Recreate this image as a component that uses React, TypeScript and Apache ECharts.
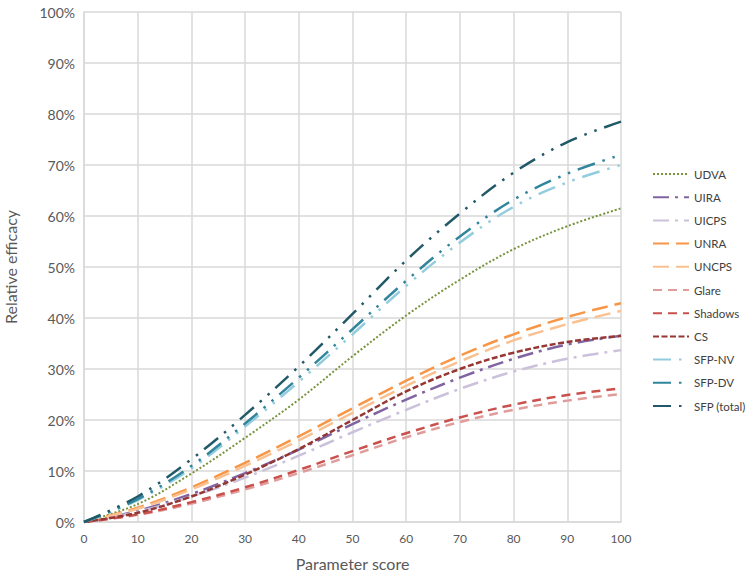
import React, { useEffect, useRef } from "react";
import * as echarts from "echarts";

const scores = [0, 10, 20, 30, 40, 50, 60, 70, 80, 90, 100];

const udva = [0, 3.5, 9.5, 16.5, 24, 32.5, 40.5, 47.5, 53.5, 58, 61.5];
const uira = [0, 2.2, 5.5, 9.6, 14.2, 19.2, 24, 28.3, 32, 34.8, 36.5];
const uicps = [0, 2, 5, 8.7, 13, 17.6, 22, 26.1, 29.5, 32, 33.7];
const unra = [0, 2.8, 6.8, 11.6, 16.8, 22.3, 27.7, 32.6, 36.8, 40.2, 42.9];
const uncps = [0, 2.6, 6.4, 11, 16, 21.4, 26.7, 31.5, 35.6, 38.8, 41.4];
const glare = [0, 1.4, 3.6, 6.4, 9.6, 13.1, 16.6, 19.6, 22, 23.8, 25.1];
const shadows = [0, 1.5, 3.9, 6.8, 10.2, 13.9, 17.4, 20.5, 23, 24.9, 26.2];
const cs = [0, 1.8, 5, 9.3, 14.3, 20, 25.6, 30, 33.2, 35.3, 36.5];
const sfpNv = [0, 4.3, 10.5, 18.7, 27.5, 36.8, 46.3, 54.8, 61.8, 66.6, 70];
const sfpDv = [0, 4.5, 11, 19.3, 28.3, 37.8, 47.3, 56, 63.2, 68.3, 72];
const sfpTotal = [0, 5, 12.3, 21, 30.5, 40.8, 51.3, 60.5, 68.5, 74.5, 78.5];

const seriesDefs = [
  { name: "UDVA", data: udva, color: "#77933C", dash: [2, 2], width: 2 },
  { name: "UIRA", data: uira, color: "#8064A2", dash: [16, 6, 3, 6], width: 2.5 },
  { name: "UICPS", data: uicps, color: "#CCC1DA", dash: [16, 6, 3, 6], width: 2.5 },
  { name: "UNRA", data: unra, color: "#F79646", dash: [16, 7], width: 2.5 },
  { name: "UNCPS", data: uncps, color: "#FAC090", dash: [16, 7], width: 2.5 },
  { name: "Glare", data: glare, color: "#E09C9A", dash: [9, 6], width: 2.5 },
  { name: "Shadows", data: shadows, color: "#C9504C", dash: [9, 6], width: 2.5 },
  { name: "CS", data: cs, color: "#953735", dash: [6, 2.5], width: 2.5 },
  { name: "SFP-NV", data: sfpNv, color: "#93CDDD", dash: [18, 8, 2.5, 8, 2.5, 8], width: 2.5 },
  { name: "SFP-DV", data: sfpDv, color: "#31859C", dash: [18, 8, 2.5, 8, 2.5, 8], width: 2.5 },
  { name: "SFP (total)", data: sfpTotal, color: "#215968", dash: [18, 8, 2.5, 8, 2.5, 8], width: 2.5 },
];

const FONT = "Lato, 'Open Sans', sans-serif";

export default function App() {
  const ref = useRef<HTMLDivElement>(null);
  useEffect(() => {
    if (!ref.current) return;
    const chart = echarts.init(ref.current, undefined, { renderer: "svg" });
    chart.setOption({
      animation: false,
      backgroundColor: "#ffffff",
      textStyle: { fontFamily: FONT },
      grid: {
        left: 84,
        right: 129,
        top: 12,
        bottom: 51,
        containLabel: false,
        outerBoundsMode: "none",
      },
      legend: {
        orient: "vertical",
        left: 652,
        top: 168,
        padding: 0,
        itemWidth: 36,
        itemHeight: 14,
        itemGap: 11.2,
        itemStyle: { opacity: 0 },
        textStyle: { fontFamily: FONT, fontSize: 11.5, color: "#404040" },
        data: seriesDefs.map((s) => s.name),
      },
      xAxis: {
        type: "value",
        min: 0,
        max: 100,
        interval: 10,
        name: "Parameter score",
        nameLocation: "middle",
        nameGap: 33,
        nameTextStyle: { fontFamily: FONT, fontSize: 16, color: "#595959" },
        axisLine: { show: true, lineStyle: { color: "#D9D9D9", width: 1.5 } },
        axisTick: { show: false },
        axisLabel: { fontFamily: FONT, fontSize: 12, color: "#595959", margin: 10 },
        splitLine: { show: true, lineStyle: { color: "#D9D9D9", width: 1.5 } },
      },
      yAxis: {
        type: "value",
        min: 0,
        max: 100,
        interval: 10,
        name: "Relative efficacy",
        nameLocation: "middle",
        nameGap: 66,
        nameRotate: 90,
        nameTextStyle: { fontFamily: FONT, fontSize: 16, color: "#595959" },
        axisLine: { show: true, lineStyle: { color: "#D9D9D9", width: 1.5 } },
        axisTick: { show: false },
        axisLabel: {
          fontFamily: FONT,
          fontSize: 14,
          color: "#595959",
          margin: 9,
          formatter: (v: number) => `${v}%`,
        },
        splitLine: { show: true, lineStyle: { color: "#D9D9D9", width: 1.5 } },
      },
      series: seriesDefs.map((s) => ({
        name: s.name,
        type: "line",
        data: scores.map((x, i) => [x, s.data[i]]),
        smooth: 0.35,
        symbol: "none",
        color: s.color,
        lineStyle: { color: s.color, width: s.width, type: s.dash },
      })),
    });
    return () => chart.dispose();
  }, []);
  return (
    <div
      ref={ref}
      style={{ position: "fixed", left: 0, top: 0, width: 750, height: 573 }}
    />
  );
}
